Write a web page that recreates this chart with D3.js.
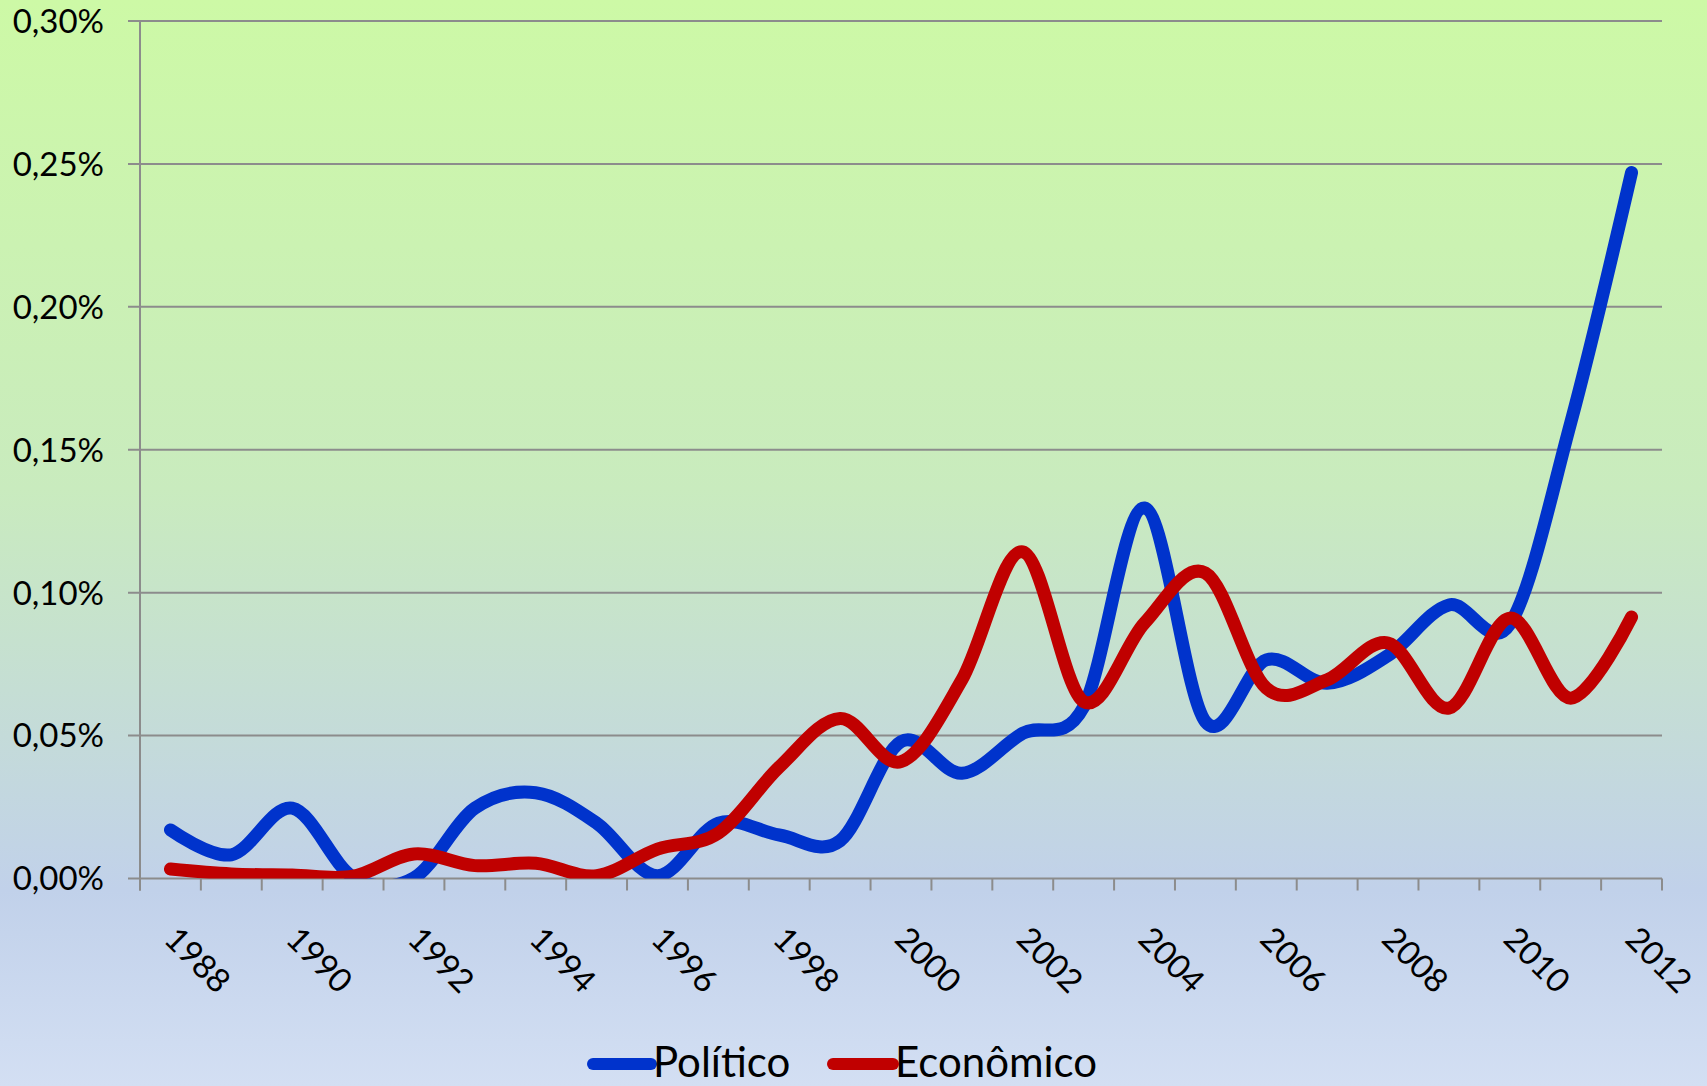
<!DOCTYPE html>
<html>
<head>
<meta charset="utf-8">
<script src="https://cdn.jsdelivr.net/npm/d3@7/dist/d3.min.js"></script>
<style>
  html, body { margin: 0; padding: 0; overflow: hidden; }
  svg { display: block; }
  text { font-family: Lato, "Open Sans", sans-serif; fill: #000; }
</style>
</head>
<body>
<div id="chart"></div>
<script>
// Categories (years)
const years = ['1988', '1989', '1990', '1991', '1992', '1993', '1994', '1995', '1996', '1997',
               '1998', '1999', '2000', '2001', '2002', '2003', '2004', '2005', '2006', '2007',
               '2008', '2009', '2010', '2011', '2012'];

// Values in percent
const politico = [0.0170, 0.0083, 0.0246, 0.0005, 0.0002, 0.0246, 0.0300, 0.0194, 0.0010, 0.0194,
                  0.0152, 0.0132, 0.0479, 0.0368, 0.0508, 0.0600, 0.1296, 0.0549, 0.0765, 0.0683,
                  0.0780, 0.0957, 0.0890, 0.1594, 0.2470];

const economico = [0.0033, 0.0016, 0.0012, 0.0008, 0.0086, 0.0045, 0.0053, 0.0010, 0.0103, 0.0159,
                   0.0390, 0.0560, 0.0409, 0.0695, 0.1143, 0.0619, 0.0894, 0.1069, 0.0666, 0.0695,
                   0.0824, 0.0596, 0.0911, 0.0631, 0.0915];

const yTicks = [0, 0.05, 0.10, 0.15, 0.20, 0.25, 0.30];

const seriesNames = ['Político', 'Econômico'];
const seriesColors = ['#0033CC', '#C00000'];

const width = 1707;
const height = 1086;
const plot = { left: 140, right: 1662, top: 21, bottom: 878.5 };

const svg = d3.select('#chart').append('svg')
    .attr('width', width)
    .attr('height', height);

// Background gradient (green on top fading to light blue)
const defs = svg.append('defs');
const grad = defs.append('linearGradient')
    .attr('id', 'bg')
    .attr('x1', 0).attr('y1', 0).attr('x2', 0).attr('y2', 1);
grad.append('stop').attr('offset', '0%').attr('stop-color', '#CDF9A6');
grad.append('stop').attr('offset', '45%').attr('stop-color', '#C9EBBE');
grad.append('stop').attr('offset', '82%').attr('stop-color', '#C1D1EA');
grad.append('stop').attr('offset', '100%').attr('stop-color', '#D3DFF3');

svg.append('rect')
    .attr('width', width)
    .attr('height', height)
    .attr('fill', 'url(#bg)');

defs.append('clipPath').attr('id', 'plot-clip')
  .append('rect')
    .attr('x', plot.left)
    .attr('y', plot.top)
    .attr('width', plot.right - plot.left)
    .attr('height', plot.bottom - plot.top);

// Scales
const x = d3.scaleBand().domain(years).range([plot.left, plot.right]);
const xc = d => x(d) + x.bandwidth() / 2;
const y = d3.scaleLinear().domain([0, 0.30]).range([plot.bottom, plot.top]);

const ptLocale = d3.formatLocale({ decimal: ',', thousands: '.', grouping: [3], currency: ['', ''] });
const fmt = ptLocale.format('.2f');

// Gridlines + y labels
const gridColor = '#8C8C8C';
svg.append('g').selectAll('line')
    .data(yTicks)
    .join('line')
    .attr('x1', plot.left - 12)
    .attr('x2', plot.right)
    .attr('y1', d => y(d))
    .attr('y2', d => y(d))
    .attr('stroke', gridColor)
    .attr('stroke-width', 2);

svg.append('g').selectAll('text')
    .data(yTicks)
    .join('text')
    .attr('x', 104)
    .attr('y', d => y(d))
    .attr('dy', '0.36em')
    .attr('text-anchor', 'end')
    .style('font-size', '33px')
    .text(d => fmt(d) + '%');

// Vertical axis line
svg.append('line')
    .attr('x1', plot.left).attr('x2', plot.left)
    .attr('y1', plot.top).attr('y2', plot.bottom + 12)
    .attr('stroke', gridColor)
    .attr('stroke-width', 2);

// X tick marks at category boundaries
const boundaries = years.map(d => x(d)).concat([plot.right]);
svg.append('g').selectAll('line')
    .data(boundaries)
    .join('line')
    .attr('x1', d => d).attr('x2', d => d)
    .attr('y1', plot.bottom)
    .attr('y2', plot.bottom + 12)
    .attr('stroke', gridColor)
    .attr('stroke-width', 2);

// X labels, rotated 45 degrees
svg.append('g').selectAll('text')
    .data(years.filter((d, i) => i % 2 === 0))
    .join('text')
    .attr('transform', d => `translate(${xc(d) - 8},${941}) rotate(45)`)
    .style('font-size', '33px')
    .text(d => d);

// Lines
const seriesData = [politico, economico];
const line = d3.line()
    .x((d, i) => xc(years[i]))
    .y(d => y(d))
    .curve(d3.curveCardinal.tension(0));

svg.append('g')
    .attr('clip-path', 'url(#plot-clip)')
  .selectAll('path')
    .data(seriesData)
    .join('path')
    .attr('d', d => line(d))
    .attr('fill', 'none')
    .attr('stroke', (d, i) => seriesColors[i])
    .attr('stroke-width', 13)
    .attr('stroke-linecap', 'round')
    .attr('stroke-linejoin', 'round');

// Legend
const legendItems = [
    { name: seriesNames[0], color: seriesColors[0], x0: 593, x1: 651, tx: 653 },
    { name: seriesNames[1], color: seriesColors[1], x0: 833, x1: 893, tx: 895 },
];
const legend = svg.append('g');
legend.selectAll('line')
    .data(legendItems)
    .join('line')
    .attr('x1', d => d.x0).attr('x2', d => d.x1)
    .attr('y1', 1064).attr('y2', 1064)
    .attr('stroke', d => d.color)
    .attr('stroke-width', 12)
    .attr('stroke-linecap', 'round');
legend.selectAll('text')
    .data(legendItems)
    .join('text')
    .attr('x', d => d.tx)
    .attr('y', 1077)
    .style('font-size', '42px')
    .text(d => d.name);
</script>
</body>
</html>
